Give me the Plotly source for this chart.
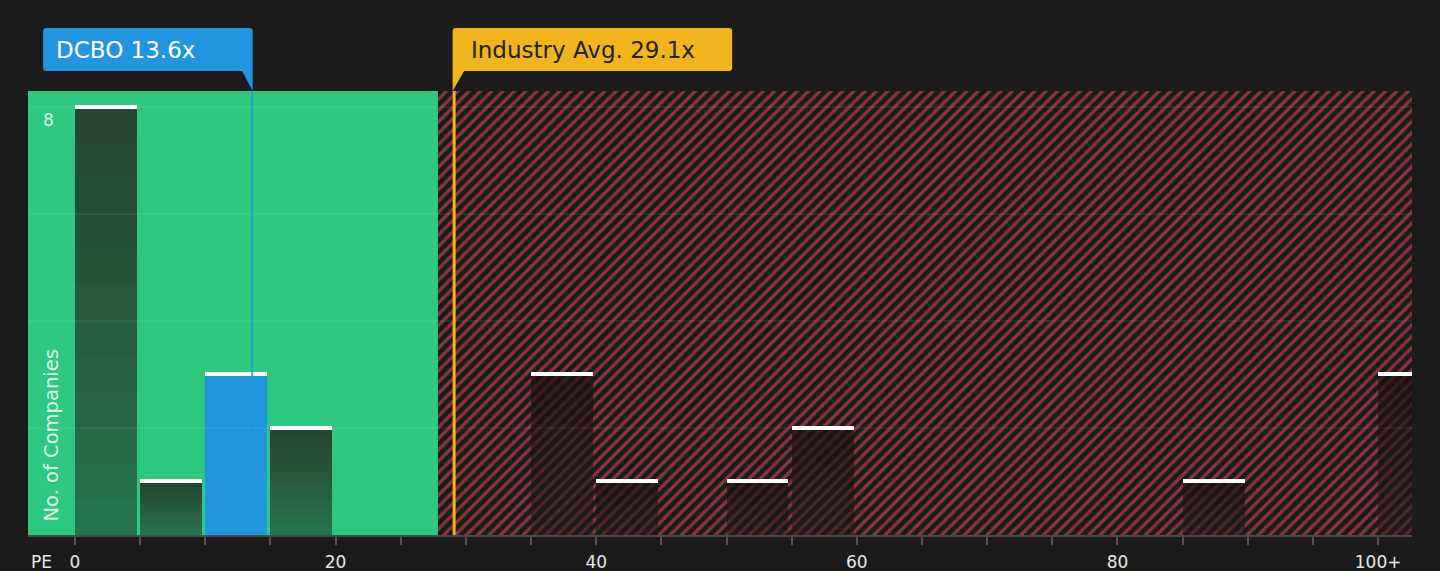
import plotly.graph_objects as go

# PE histogram data (bin start, no. of companies)
bin_start = [0, 5, 10, 15, 35, 40, 50, 55, 85, 100]
counts = [8, 1, 3, 2, 3, 1, 1, 2, 1, 3]
company_bin = 10          # bin that holds DCBO
company_name = "DCBO"
company_pe = 13.6
industry_pe = 29.1
fair_end = 27.86          # end of the green (undervalued) zone
x_ticks = [0, 20, 40, 60, 80, 100]
x_tick_text = ["0", "20", "40", "60", "80", "100+"]
y_grid = [2, 4, 6, 8]

X_MIN, X_MAX = -3.6, 102.6
Y_MAX = 8.3
BAR_W = 4.75

BG = "#1b1b1b"
GREEN = "#2ec87f"
BLUE = "#2394e0"
GOLD = "#f0b41c"
FONT = "DejaVu Sans"

fig = go.Figure()

# hatched overvalued zone (as a bar so it stays under the other bars)
fig.add_trace(go.Bar(
    x=[fair_end], y=[Y_MAX], width=[X_MAX - fair_end + 1], offset=0,
    marker=dict(color=BG, line_width=0,
                pattern=dict(shape="/", fgcolor="#f0525a", bgcolor=BG, size=8, solidity=0.42)),
    hoverinfo="skip", showlegend=False,
))

other_x = [b for b in bin_start if b != company_bin]
other_y = [c for b, c in zip(bin_start, counts) if b != company_bin]
comp_y = [c for b, c in zip(bin_start, counts) if b == company_bin]

# dark bars, darker towards the top (stacked translucent layers)
fig.add_trace(go.Bar(x=other_x, y=other_y, width=BAR_W, offset=0,
                     marker=dict(color="rgba(30,26,28,0.48)", line_width=0),
                     hoverinfo="skip", showlegend=False))
layers = 12
for k in range(1, layers + 1):
    fig.add_trace(go.Bar(
        x=other_x, y=[v * (1 - k / layers) for v in other_y],
        base=[v * k / layers for v in other_y], width=BAR_W, offset=0,
        marker=dict(color="rgba(30,26,28,0.05)", line_width=0),
        hoverinfo="skip", showlegend=False))

# DCBO bar
fig.add_trace(go.Bar(x=[company_bin], y=comp_y, width=BAR_W, offset=0,
                     marker=dict(color=BLUE, line_width=0),
                     hoverinfo="skip", showlegend=False))

# white caps on top of each bar
fig.add_trace(go.Bar(x=bin_start, y=[0.07] * len(counts), base=[c - 0.03 for c in counts],
                     width=BAR_W, offset=0, marker=dict(color="white", line_width=0),
                     hoverinfo="skip", showlegend=False))

shapes = [
    dict(type="rect", xref="x", yref="y", x0=X_MIN, x1=fair_end, y0=0, y1=Y_MAX,
         fillcolor=GREEN, line_width=0, layer="below"),
]
for g in y_grid:
    shapes.append(dict(type="line", xref="paper", yref="y", x0=0, x1=1, y0=g, y1=g,
                       line=dict(color="rgba(255,255,255,0.12)", width=1), layer="above"))
shapes += [
    dict(type="line", xref="x", yref="paper", x0=company_pe, x1=company_pe, y0=0, y1=1,
         line=dict(color="rgba(35,148,224,0.8)", width=2), layer="above"),
    dict(type="line", xref="x", yref="paper", x0=industry_pe, x1=industry_pe, y0=0, y1=1,
         line=dict(color=GOLD, width=3), layer="above"),
    # callout boxes, in pixels from the line tops
    dict(type="path", xref="x", yref="paper", xsizemode="pixel", ysizemode="pixel",
         xanchor=company_pe, yanchor=1,
         path="M 0.5,0 L 0.5,60 Q 0.5,63 -2.5,63 L -206,63 Q -209,63 -209,60 L -209,23 "
              "Q -209,20 -206,20 L -10,20 Z",
         fillcolor=BLUE, line_width=0, layer="above"),
    dict(type="path", xref="x", yref="paper", xsizemode="pixel", ysizemode="pixel",
         xanchor=industry_pe, yanchor=1,
         path="M -1.5,0 L 10,20 L 275,20 Q 278,20 278,23 L 278,60 Q 278,63 275,63 "
              "L 1.5,63 Q -1.5,63 -1.5,60 Z",
         fillcolor=GOLD, line_width=0, layer="above"),
]

annotations = [
    dict(text=f"{company_name} {company_pe}x", xref="x", yref="paper", x=company_pe, y=1,
         xanchor="left", yanchor="middle", xshift=-198, yshift=41, showarrow=False,
         font=dict(family=FONT, size=23, color="white")),
    dict(text=f"Industry Avg. {industry_pe}x", xref="x", yref="paper", x=industry_pe, y=1,
         xanchor="left", yanchor="middle", xshift=15, yshift=41, showarrow=False,
         font=dict(family=FONT, size=23, color="#232323")),
    dict(text="8", xref="paper", yref="y", x=0, y=8, xanchor="left", yanchor="top",
         xshift=13, yshift=-1, showarrow=False,
         font=dict(family=FONT, size=17, color="rgba(255,255,255,0.85)")),
    dict(text="No. of Companies", xref="paper", yref="paper", x=0, y=0, textangle=-90,
         xanchor="left", yanchor="bottom", xshift=9, yshift=11, showarrow=False,
         font=dict(family=FONT, size=19.5, color="rgba(255,255,255,0.85)")),
    dict(text="PE", xref="paper", yref="paper", x=0, y=0, xanchor="left", yanchor="middle",
         xshift=1, yshift=-27, showarrow=False,
         font=dict(family=FONT, size=17, color="#e6e6e6")),
]

fig.update_layout(
    width=1440, height=571,
    margin=dict(l=28, r=28, t=91, b=36),
    paper_bgcolor=BG, plot_bgcolor=BG,
    barmode="overlay", bargap=0,
    shapes=shapes, annotations=annotations,
    font=dict(family=FONT, color="#e6e6e6"),
    xaxis=dict(range=[X_MIN, X_MAX], tickmode="array", tickvals=x_ticks, ticktext=x_tick_text,
               showgrid=False, zeroline=False, showline=True, linecolor="#4a4a4a", linewidth=2,
               ticks="outside", ticklen=8, tickcolor="#555555", tickwidth=2, automargin=False,
               ticklabelstandoff=3, tickfont=dict(size=17, color="#e6e6e6"),
               minor=dict(tickmode="linear", tick0=0, dtick=5, ticks="outside", ticklen=8,
                          tickcolor="#555555", tickwidth=2, showgrid=False)),
    yaxis=dict(range=[0, Y_MAX], showgrid=False, zeroline=False, showticklabels=False,
               automargin=False),
)

fig.write_html("out.html", config={"displayModeBar": False},
               post_script="document.body.style.margin='0';")
